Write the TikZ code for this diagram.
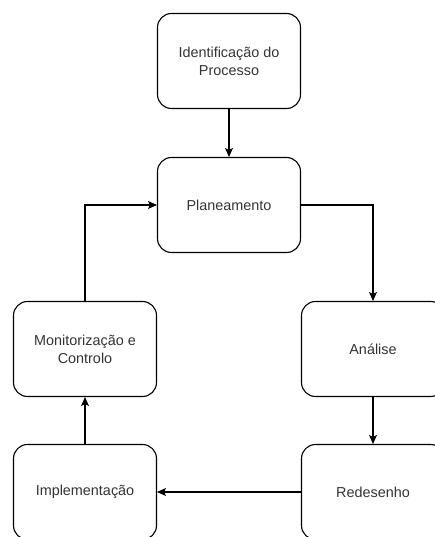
\documentclass[tikz,border=0pt]{standalone}
\usepackage{fontspec}
\setmainfont{Liberation Sans}
\usetikzlibrary{arrows.meta}

\begin{document}
\begin{tikzpicture}[x=1pt,y=-1pt,>={Stealth[length=9pt,width=8pt,inset=2pt]},
  line width=1.1pt,
  etapa/.style={draw,rounded corners=14pt,minimum width=143pt,minimum height=95pt,
    inner sep=2pt,align=center,text=black!80,
    font=\fontsize{14.4}{18}\selectfont}]
  \useasboundingbox (0,0) rectangle (435,537);
  % etapas do ciclo
  \node[etapa] (ident) at (229,61) {Identifica\c{c}\~ao do\\Processo};
  \node[etapa] (plan) at (229,205) {Planeamento};
  \node[etapa] (anal) at (373,349) {An\'alise};
  \node[etapa] (redes) at (373,492) {Redesenho};
  \node[etapa] (impl) at (85,492) {Implementa\c{c}\~ao};
  \node[etapa] (monit) at (85,349) {Monitoriza\c{c}\~ao e\\Controlo};
  % ligacoes
  \draw[->] (ident) -- (plan);
  \draw[->] (plan.east) -| (anal.north);
  \draw[->] (anal) -- (redes);
  \draw[->] (redes) -- (impl);
  \draw[->] (impl) -- (monit);
  \draw[->] (monit.north) |- (plan.west);
\end{tikzpicture}
\end{document}
